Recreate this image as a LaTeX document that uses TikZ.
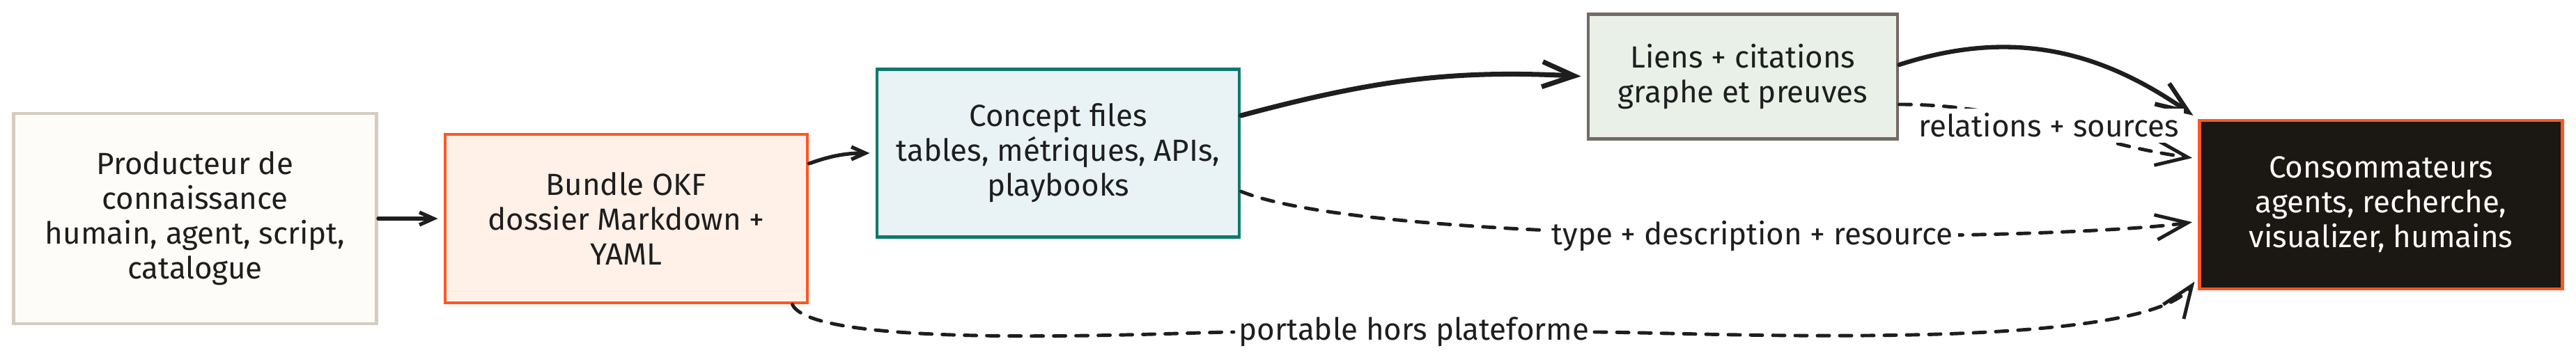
\documentclass[tikz,border=0pt]{standalone}
\usepackage{fontspec}
\setmainfont{Fira Sans}
\usetikzlibrary{arrows.meta}

\definecolor{ink}{HTML}{1E1E1E}
\definecolor{prodfill}{HTML}{FDFCF8}
\definecolor{proddraw}{HTML}{D6CBBF}
\definecolor{bundlefill}{HTML}{FFF0E8}
\definecolor{okforange}{HTML}{FF5722}
\definecolor{conceptfill}{HTML}{E9F2F4}
\definecolor{conceptdraw}{HTML}{0E7A6E}
\definecolor{liensfill}{HTML}{E8F0E8}
\definecolor{liensdraw}{HTML}{736A62}
\definecolor{consofill}{HTML}{1B1713}

\tikzset{
    box/.style={draw, line width=1.4pt, align=center, inner sep=2pt, text=ink,
        font=\fontsize{12.5}{14.2}\selectfont},
    lbl/.style={fill=white, inner sep=2pt, text=ink, font=\fontsize{12.5}{14.2}\selectfont},
    arrsmall/.style={draw=ink, line width=1.5pt, line cap=round,
        -{Straight Barb[length=2mm, width=1.8mm]}, shorten >=0.8mm},
    arrbig/.style={draw=ink, line width=1.5pt, line cap=round,
        -{Straight Barb[length=4.6mm, width=3.6mm]}, shorten >=0.8mm},
    dasharr/.style={arrbig, line width=1.4pt, dash pattern=on 1.7mm off 1.5mm},
}

\begin{document}
\begin{tikzpicture}
    % page frame
    \useasboundingbox (0,0) rectangle (36.98,5.20);
    \fill[white] (0,0) rectangle (36.98,5.20);

    % Boxes
    \node[box, fill=prodfill, draw=proddraw, minimum width=5.21cm, minimum height=3.02cm] (prod) at (2.80,2.06)
        {Producteur de\\connaissance\\humain, agent, script,\\catalogue};
    \node[box, fill=bundlefill, draw=okforange, minimum width=5.20cm, minimum height=2.42cm] (bundle) at (8.99,2.06)
        {Bundle OKF\\dossier Markdown +\\YAML};
    \node[box, fill=conceptfill, draw=conceptdraw, minimum width=5.20cm, minimum height=2.41cm] (concept) at (15.19,3.00)
        {Concept files\\tables, métriques, APIs,\\playbooks};
    \node[box, fill=liensfill, draw=liensdraw, minimum width=4.44cm, minimum height=1.79cm] (liens) at (25.02,4.10)
        {Liens + citations\\graphe et preuves};
    \node[box, fill=consofill, draw=okforange, text=white, minimum width=5.21cm, minimum height=2.42cm] (conso) at (34.18,2.26)
        {Consommateurs\\agents, recherche,\\visualizer, humains};

    % Main flow
    \draw[arrsmall] (prod.east) -- (bundle.west);
    \draw[arrsmall] ([yshift=7.9mm]bundle.east) to[out=20, in=180] (concept.west);
    \draw[arrbig, line width=2pt] ([yshift=5.4mm]concept.east) to[out=15, in=177] (liens.west);
    \draw[arrbig, line width=1.8pt] ([yshift=1.7mm]liens.east) to[out=18, in=145] (conso.north west);

    % Dashed flows
    \draw[dasharr] ([yshift=-4mm]liens.east) to[out=0, in=172]
        node[lbl] (lrel) {relations + sources} ([yshift=6.6mm]conso.west);
    \draw[dasharr] ([yshift=-5.5mm]concept.east) to[out=-22, in=-172, looseness=0.4]
        node[lbl, pos=0.53] (ltype) {type + description + resource} ([yshift=-2.4mm]conso.west);
    \node[lbl] (lport) at (20.30,0.43) {portable hors plateforme};
    \draw[dasharr] ([xshift=-2.4mm]bundle.south east) to[out=-65, in=180, looseness=0.3] (lport)
        to[out=0, in=-125, looseness=0.4] ([yshift=-10.4mm]conso.west);
\end{tikzpicture}
\end{document}
